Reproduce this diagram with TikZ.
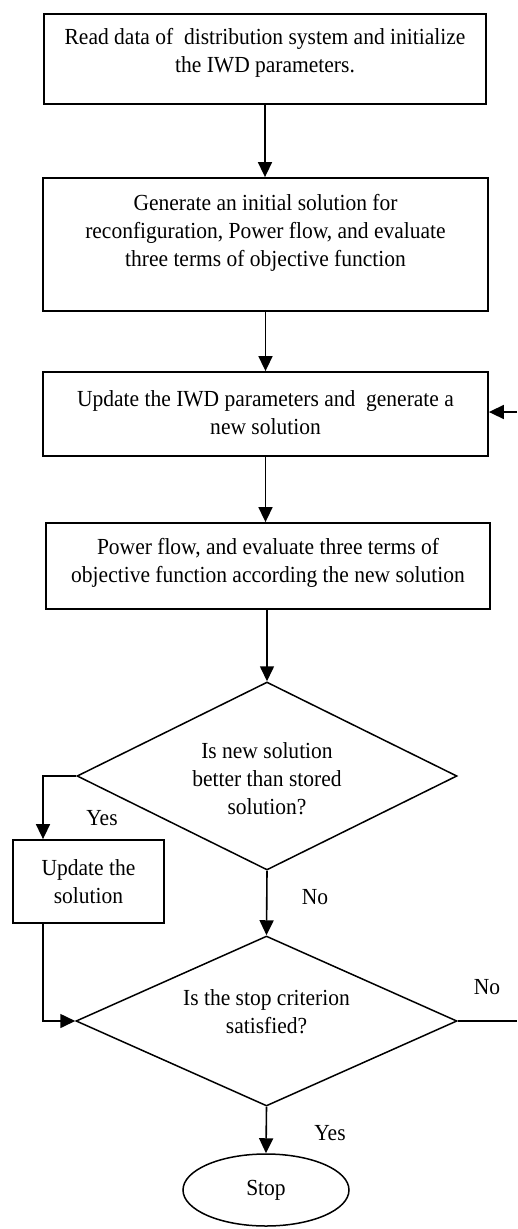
\documentclass[tikz,border=0pt]{standalone}
\usepackage{fontspec}
\setmainfont{Liberation Serif}[FakeStretch=0.935]
\usetikzlibrary{arrows.meta,shapes.geometric}
\begin{document}
\begin{tikzpicture}[x=1pt,y=-1pt,
  box/.style={draw, line width=1.8pt, inner sep=0pt},
  dia/.style={draw, diamond, line width=1.5pt, inner sep=0pt},
  oval/.style={draw, ellipse, line width=1.5pt, inner sep=0pt},
  txt/.style={align=center, font=\fontsize{23}{28}\selectfont, inner sep=0pt},
  lbl/.style={font=\fontsize{23}{28}\selectfont, inner sep=0pt},
  flow/.style={line width=1.6pt, -{Triangle[length=15pt,width=14pt]}},
  plain/.style={line width=1.6pt}]
\useasboundingbox (0,0) rectangle (517,1229);
% shapes
\node[box, minimum width=442pt, minimum height=90pt] (b1) at (265,59) {};
\node[txt] (t1) at (265,53) {Read data of\ \ distribution system and initialize\\the IWD parameters.};
\node[box, minimum width=445pt, minimum height=133pt] (b2) at (265.5,244.5) {};
\node[txt] (t2) at (265.5,233) {Generate an initial solution for\\reconfiguration, Power flow, and evaluate\\three terms of objective function};
\node[box, minimum width=445pt, minimum height=84pt] (b3) at (265.5,414) {};
\node[txt] (t3) at (265.5,413) {Update the IWD parameters and\ \ generate a\\new solution};
\node[box, minimum width=444pt, minimum height=86pt] (b4) at (268,566) {};
\node[txt] (t4) at (268,563) {Power flow, and evaluate three terms of\\objective function according the new solution};
\node[dia, minimum width=380pt, minimum height=188pt] (d1) at (267,776) {};
\node[txt] (t5) at (267,779) {Is new solution\\better than stored\\solution?};
\node[box, minimum width=151pt, minimum height=83pt] (b5) at (88.5,881.5) {};
\node[txt] (t6) at (88.5,881.5) {Update the\\solution};
\node[dia, minimum width=381pt, minimum height=170pt] (d2) at (266.5,1021) {};
\node[txt] (t7) at (266.5,1012) {Is the stop criterion\\satisfied?};
\node[oval, minimum width=166pt, minimum height=72pt] (st) at (266,1190) {};
\node[txt] (t8) at (266,1190) {Stop};
% labels
\node[lbl] (l1) at (102,818) {Yes};
\node[lbl] (l2) at (315,897) {No};
\node[lbl] (l3) at (487,987) {No};
\node[lbl] (l4) at (330,1133) {Yes};
% helper coordinates
\coordinate (yesx) at (43,776);
\coordinate (re) at (517,1021);
\coordinate (rt) at (517,412);
% connectors
\draw[flow] (b1.south) -- (b1.south |- b2.north);
\draw[flow] (b2.south) -- (b2.south |- b3.north);
\draw[flow] (b3.south) -- (b3.south |- b4.north);
\draw[flow] (d1.north |- b4.south) -- (d1.north);
\draw[flow] (d1.west) -- (yesx) -- (yesx |- b5.north);
\draw[flow] (d1.south) -- (d2.north);
\draw[flow] (yesx |- b5.south) |- (d2.west);
\draw[plain] (d2.east) -- (re);
\draw[flow] (rt) -- (rt -| b3.east);
\draw[flow] (d2.south) -- (st.north);
\end{tikzpicture}
\end{document}
